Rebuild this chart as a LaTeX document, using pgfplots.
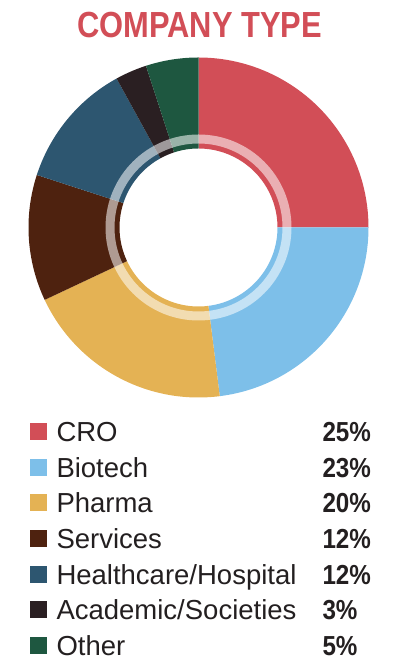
\documentclass[border=0pt]{standalone}
\usepackage{fontspec}
\setmainfont{Liberation Sans}
\newfontfamily\titlefont{Liberation Sans}[FakeStretch=0.85]
\newfontfamily\pctfont{Liberation Sans}[FakeStretch=0.88]
\usepackage{pgfplots}
\usepackage{pgfplotstable}
\pgfplotsset{compat=1.18}
\usetikzlibrary{calc}
\definecolor{cCRO}{HTML}{D24E57}
\definecolor{cBio}{HTML}{7DBFE9}
\definecolor{cPha}{HTML}{E4B254}
\definecolor{cSer}{HTML}{4E220F}
\definecolor{cHea}{HTML}{2D5670}
\definecolor{cAca}{HTML}{2A1F22}
\definecolor{cOth}{HTML}{1E5740}
\definecolor{txt}{HTML}{231F20}
\pgfplotstableread{
label value color
CRO 25 cCRO
Biotech 23 cBio
Pharma 20 cPha
Services 12 cSer
Healthcare/Hospital 12 cHea
Academic/Societies 3 cAca
Other 5 cOth
}\piedata
\begin{document}
\begin{tikzpicture}
\begin{axis}[
  x=1bp, y=1bp, xmin=0, xmax=399, ymin=0, ymax=670,
  scale only axis, hide axis, clip=false,
  legend image code/.code={\fill[#1, draw=none] (0bp,1.5bp) rectangle (17bp,18.5bp);},
  legend cell align=left,
  legend style={at={(axis cs:30,248)}, anchor=north west, draw=none, fill=none,
    inner sep=0pt, outer sep=0pt, row sep=9.5bp, column sep=9.5bp,
    nodes={inner sep=0pt, text height=20bp, text depth=6bp, anchor=base west},
    font=\fontsize{27.5bp}{30bp}\selectfont\color{txt}},
]
\addlegendimage{fill=cCRO, draw=none}
\addlegendentry{\makebox[266bp][l]{CRO}{\pctfont\bfseries 25\%}}
\addlegendimage{fill=cBio, draw=none}
\addlegendentry{\makebox[266bp][l]{Biotech}{\pctfont\bfseries 23\%}}
\addlegendimage{fill=cPha, draw=none}
\addlegendentry{\makebox[266bp][l]{Pharma}{\pctfont\bfseries 20\%}}
\addlegendimage{fill=cSer, draw=none}
\addlegendentry{\makebox[266bp][l]{Services}{\pctfont\bfseries 12\%}}
\addlegendimage{fill=cHea, draw=none}
\addlegendentry{\makebox[266bp][l]{Healthcare/Hospital}{\pctfont\bfseries 12\%}}
\addlegendimage{fill=cAca, draw=none}
\addlegendentry{\makebox[266bp][l]{Academic/Societies}{\pctfont\bfseries 3\%}}
\addlegendimage{fill=cOth, draw=none}
\addlegendentry{\makebox[266bp][l]{Other}{\pctfont\bfseries 5\%}}
\pgfplotsextra{%
  \path (axis cs:0,0) rectangle (axis cs:399,670);
  \gdef\cum{0}%
  \foreach \i in {0,...,6}{%
    \pgfplotstablegetelem{\i}{value}\of\piedata \let\slval\pgfplotsretval
    \pgfplotstablegetelem{\i}{color}\of\piedata \let\slcol\pgfplotsretval
    \pgfmathsetmacro\aA{90-3.6*\cum}%
    \pgfmathsetmacro\aB{90-3.6*(\cum+\slval)}%
    \fill[fill=\slcol] ($(axis cs:198.5,442.5)+(\aA:170bp)$) arc[start angle=\aA, end angle=\aB, radius=170bp]
      -- ($(axis cs:198.5,442.5)+(\aB:79bp)$) arc[start angle=\aB, end angle=\aA, radius=79bp] -- cycle;
    \pgfmathsetmacro\newcum{\cum+\slval}\xdef\cum{\newcum}%
  }
  \fill[white, opacity=0.55, even odd rule] (axis cs:198.5,442.5) circle[radius=93bp]
     (axis cs:198.5,442.5) circle[radius=84bp];
  \node[anchor=base, inner sep=0pt, text=cCRO, font=\titlefont\bfseries\fontsize{36.3bp}{40bp}\selectfont]
     at (axis cs:199.5,632) {COMPANY TYPE};
}
\end{axis}
\end{tikzpicture}
\end{document}
